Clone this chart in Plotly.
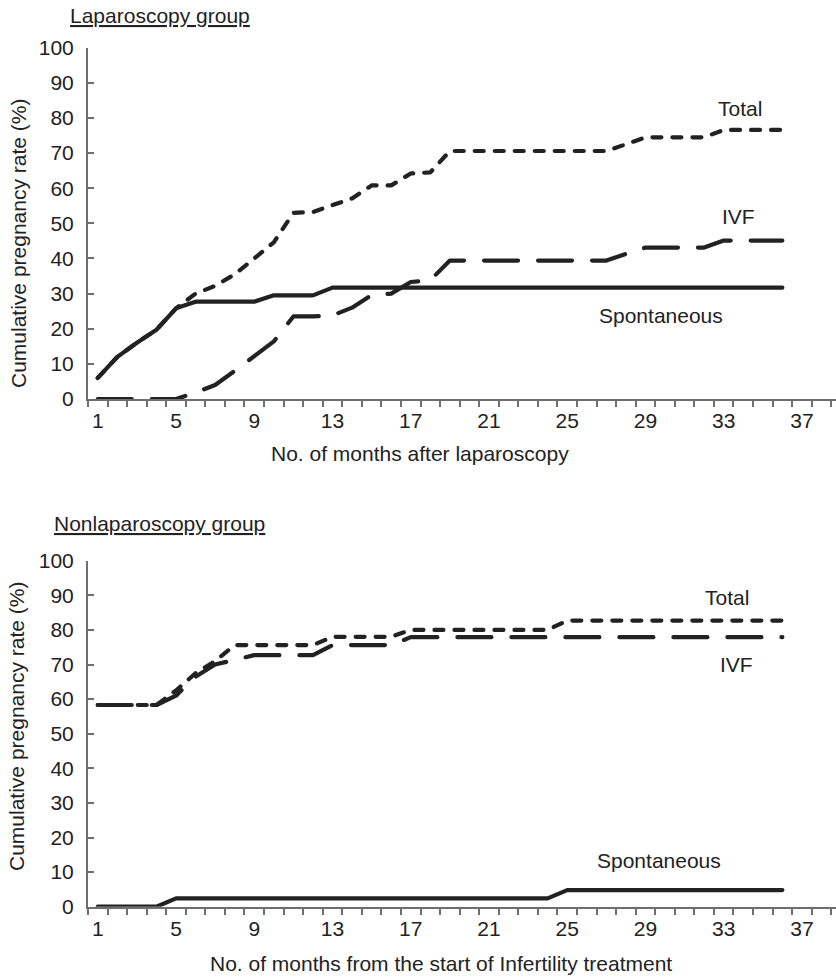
import plotly.graph_objects as go

# ---------------- data ----------------
months = list(range(1, 37))

lap_total = [6, 12, 16, 19.7, 25.8, 30, 32.2, 35.5, 40, 44.6, 53, 53.2,
             55.2, 57.1, 60.8, 60.8, 64.2, 64.5, 70.6, 70.6, 70.6, 70.6, 70.6, 70.6,
             70.6, 70.6, 70.6, 72.5, 74.5, 74.5, 74.5, 74.5, 76.6, 76.6, 76.6, 76.6]
lap_ivf = [0, 0, 0, 0, 0, 1.8, 4, 8, 12.2, 16.4, 23.5, 23.5,
           23.8, 26, 29.6, 30, 33.3, 33.8, 39.4, 39.4, 39.4, 39.4, 39.4, 39.4,
           39.4, 39.4, 39.4, 41.3, 43.1, 43.1, 43.1, 43.1, 45.1, 45.1, 45.1, 45.1]
lap_spont = [6, 12, 16, 19.7, 25.8, 27.7, 27.7, 27.7, 27.7, 29.5, 29.5, 29.5,
             31.7, 31.7, 31.7, 31.7, 31.7, 31.7, 31.7, 31.7, 31.7, 31.7, 31.7, 31.7,
             31.7, 31.7, 31.7, 31.7, 31.7, 31.7, 31.7, 31.7, 31.7, 31.7, 31.7, 31.7]

non_total = [58.3, 58.3, 58.3, 58.3, 62.5, 67.5, 71, 75.6, 75.6, 75.6, 75.6, 75.6,
             78, 78, 78, 78, 80, 80, 80, 80, 80, 80, 80, 80,
             82.7, 82.7, 82.7, 82.7, 82.7, 82.7, 82.7, 82.7, 82.7, 82.7, 82.7, 82.7]
non_ivf = [58.3, 58.3, 58.3, 58.3, 61, 66.5, 70, 71.5, 72.7, 72.7, 72.7, 72.7,
           75.6, 75.6, 75.6, 75.6, 77.9, 77.9, 77.9, 77.9, 77.9, 77.9, 77.9, 77.9,
           77.9, 77.9, 77.9, 77.9, 77.9, 77.9, 77.9, 77.9, 77.9, 77.9, 77.9, 77.9]
non_spont = [0, 0, 0, 0, 2.4, 2.4, 2.4, 2.4, 2.4, 2.4, 2.4, 2.4,
             2.4, 2.4, 2.4, 2.4, 2.4, 2.4, 2.4, 2.4, 2.4, 2.4, 2.4, 2.4,
             4.8, 4.8, 4.8, 4.8, 4.8, 4.8, 4.8, 4.8, 4.8, 4.8, 4.8, 4.8]

x_tick_vals = [1, 5, 9, 13, 17, 21, 25, 29, 33, 37]
x_tick_text = ["1", "5", "9", "13", "17", "21", "25", "29", "33", "37"]
y_tick_vals = [0, 10, 20, 30, 40, 50, 60, 70, 80, 90, 100]
category_bounds = [k + 0.5 for k in range(0, 39)]

# ---------------- styling ----------------
FONT = "Arial, 'Liberation Sans', Helvetica, sans-serif"
INK = "#222222"
AXIS = "#6f6f6f"
W, H = 836, 978
L = 88

def px_x(p):
    return (p - L) / (W - L)

def px_y(p):
    return (H - p) / H

fig = go.Figure()

def add_group(xa, ya, total, ivf, spont):
    fig.add_trace(go.Scatter(x=months, y=total, xaxis=xa, yaxis=ya, mode="lines",
                             line=dict(color=INK, width=4.2, dash="9px,11px"),
                             name="Total", showlegend=False, hoverinfo="skip"))
    fig.add_trace(go.Scatter(x=months, y=ivf, xaxis=xa, yaxis=ya, mode="lines",
                             line=dict(color=INK, width=4.2, dash="34px,20px"),
                             name="IVF", showlegend=False, hoverinfo="skip"))
    fig.add_trace(go.Scatter(x=months, y=spont, xaxis=xa, yaxis=ya, mode="lines",
                             line=dict(color=INK, width=4.2),
                             name="Spontaneous", showlegend=False, hoverinfo="skip"))

add_group("x", "y", lap_total, lap_ivf, lap_spont)
add_group("x2", "y2", non_total, non_ivf, non_spont)

xaxis_common = dict(
    range=[0.5, 0.5 + (W - L) / 19.56], domain=[0, 1], automargin=False,
    showline=True, linecolor=AXIS, linewidth=2, mirror=False,
    showgrid=False, zeroline=False,
    tickmode="array", tickvals=x_tick_vals, ticktext=x_tick_text, ticks="",
    tickfont=dict(family=FONT, size=21, color=INK), ticklabelstandoff=2,
    minor=dict(tickmode="array", tickvals=category_bounds, ticks="outside",
               ticklen=6, tickwidth=1.5, tickcolor=AXIS, showgrid=False),
    fixedrange=True,
)
yaxis_common = dict(
    range=[0, 100], automargin=False,
    showline=True, linecolor=AXIS, linewidth=2,
    showgrid=False, zeroline=False,
    tickmode="array", tickvals=y_tick_vals, ticks="inside", ticklen=6,
    tickwidth=1.5, tickcolor=AXIS,
    tickfont=dict(family=FONT, size=21, color=INK), ticklabelstandoff=8,
    fixedrange=True,
)

fig.update_layout(
    template="none",
    width=W, height=H, autosize=False,
    margin=dict(l=L, r=0, t=0, b=0, pad=0, autoexpand=False),
    paper_bgcolor="white", plot_bgcolor="white",
    font=dict(family=FONT, size=21, color=INK),
    showlegend=False,
    xaxis=dict(xaxis_common, anchor="y"),
    yaxis=dict(yaxis_common, anchor="x", domain=[px_y(399), px_y(47.7)]),
    xaxis2=dict(xaxis_common, anchor="y2"),
    yaxis2=dict(yaxis_common, anchor="x2", domain=[px_y(906.7), px_y(560.7)]),
)

def note(text, px, py, xanchor="center", angle=0):
    fig.add_annotation(text=text, xref="paper", yref="paper",
                       x=px_x(px), y=px_y(py), xanchor=xanchor, yanchor="middle",
                       textangle=angle, showarrow=False,
                       font=dict(family=FONT, size=21, color=INK))

# top panel
note("<u>Laparoscopy group</u>", 68, 15, xanchor="left")
note("Cumulative pregnancy rate (%)", 18, 244, angle=-90)
note("No. of months after laparoscopy", 420, 453)
note("Total", 740, 108)
note("IVF", 738, 217)
note("Spontaneous", 661, 315)

# bottom panel
note("<u>Nonlaparoscopy group</u>", 52, 523, xanchor="left")
note("Cumulative pregnancy rate (%)", 16, 727, angle=-90)
note("No. of months from the start of Infertility treatment", 441, 963)
note("Total", 727, 597)
note("IVF", 736, 665)
note("Spontaneous", 659, 860)

# rounded line ends, as in the printed figure
round_caps = (
    "var gd = document.getElementById('{plot_id}');"
    "gd.querySelectorAll('path.js-line').forEach(function(p){"
    "p.style.strokeLinecap='round'; p.style.strokeLinejoin='round';});"
)

fig.write_html("out.html", post_script=round_caps)
